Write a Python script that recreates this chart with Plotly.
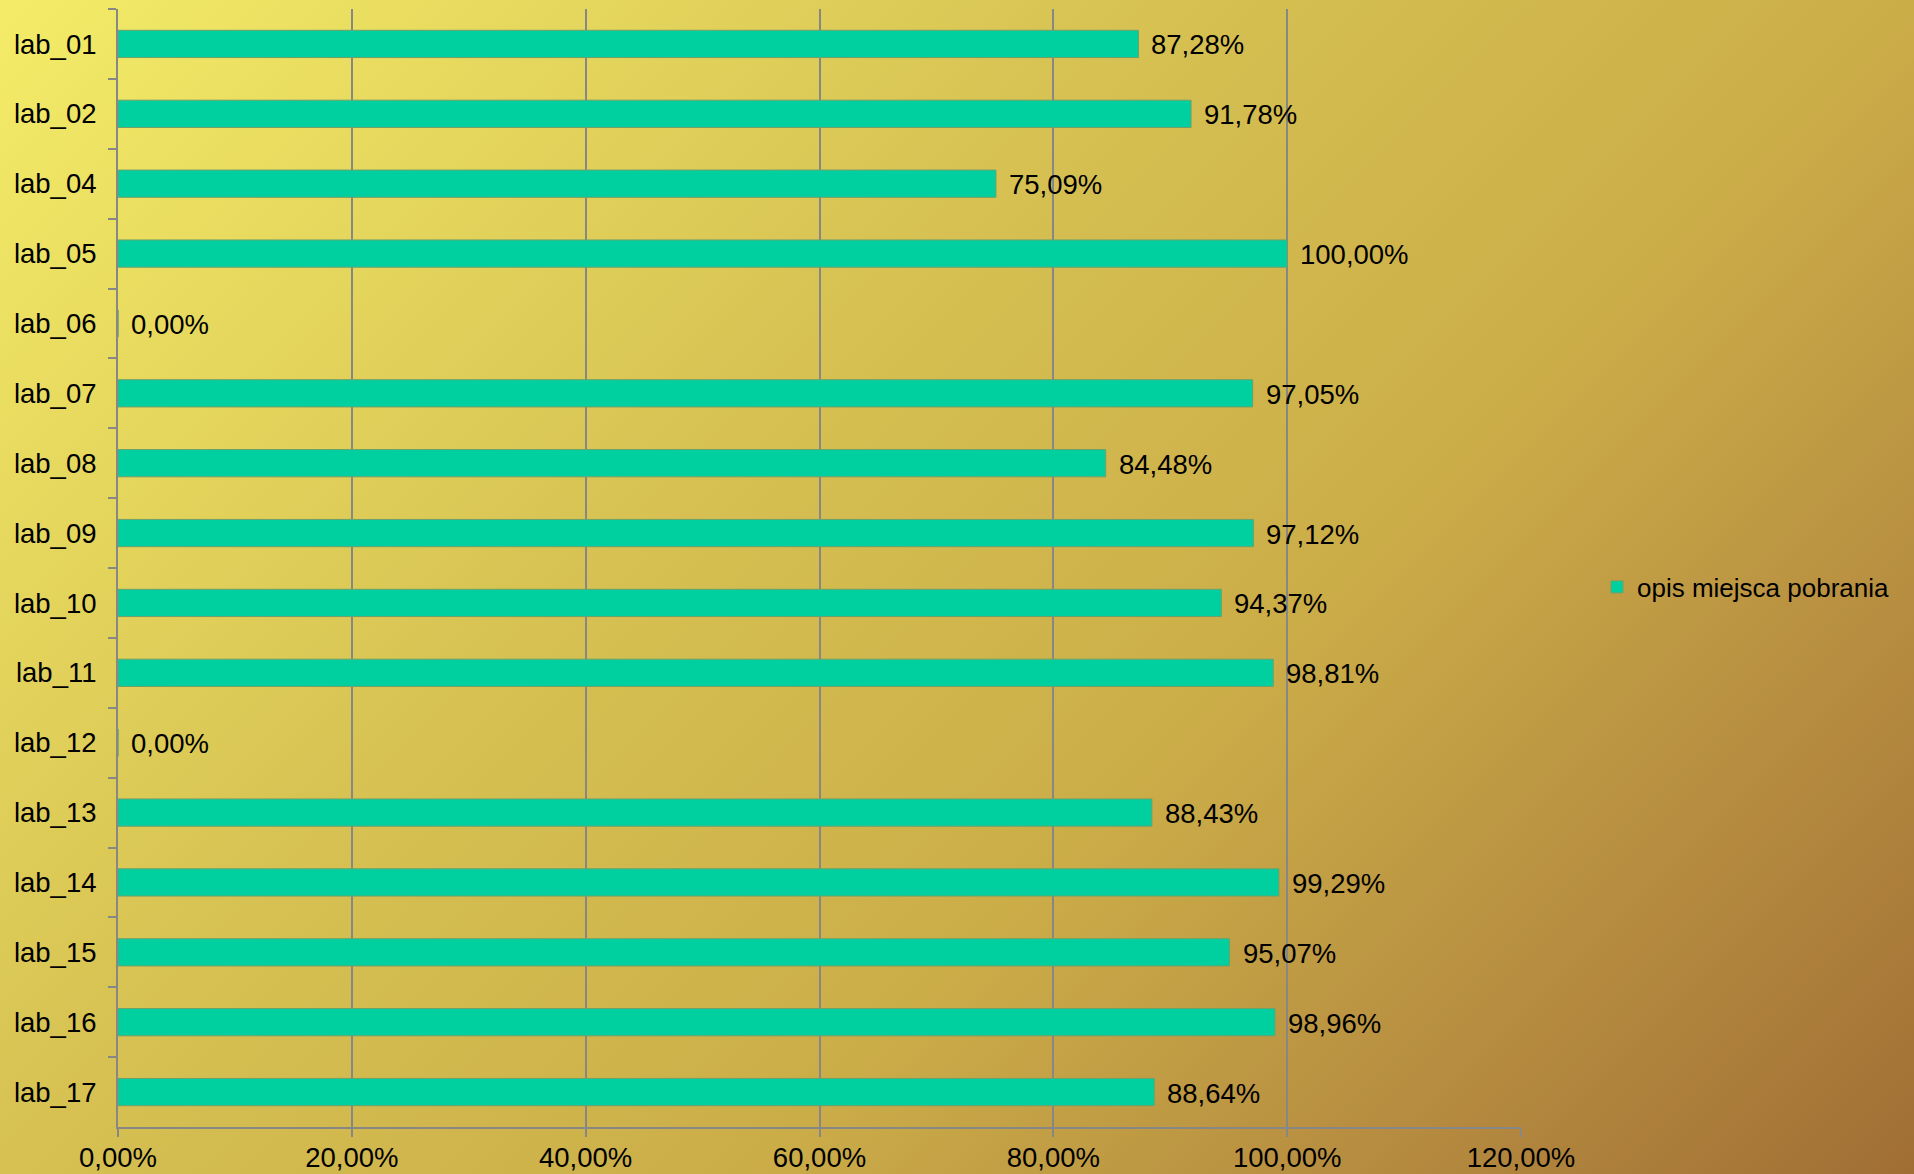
import base64
import plotly.graph_objects as go

# Share of records with a sampling-site description, per laboratory
labs = ["lab_01", "lab_02", "lab_04", "lab_05", "lab_06", "lab_07", "lab_08", "lab_09",
        "lab_10", "lab_11", "lab_12", "lab_13", "lab_14", "lab_15", "lab_16", "lab_17"]
share = [0.8728, 0.9178, 0.7509, 1.0000, 0.0000, 0.9705, 0.8448, 0.9712,
         0.9437, 0.9881, 0.0000, 0.8843, 0.9929, 0.9507, 0.9896, 0.8864]
series_name = "opis miejsca pobrania"
x_ticks = [0, 0.2, 0.4, 0.6, 0.8, 1.0, 1.2]

W, H = 1914, 1174
M_L, M_R, M_T, M_B = 118, 393, 9, 47
PW, PH = W - M_L - M_R, H - M_T - M_B

FONT = "Liberation Sans, Arial, sans-serif"
FS = 27.5
BAR = "#00CFA0"
GRID = "#878785"

# Diagonal golden backdrop drawn as an SVG gradient behind the whole figure
svg = f"""<svg xmlns='http://www.w3.org/2000/svg' width='{W}' height='{H}' viewBox='0 0 {W} {H}'>
<defs><linearGradient id='g' gradientUnits='userSpaceOnUse' x1='0' y1='0' x2='1544' y2='1544'>
<stop offset='0' stop-color='#F4EC68'/>
<stop offset='0.38' stop-color='#D6C152'/>
<stop offset='0.62' stop-color='#CBAD48'/>
<stop offset='0.82' stop-color='#B68C40'/>
<stop offset='1' stop-color='#A06E34'/>
</linearGradient></defs>
<rect width='{W}' height='{H}' fill='url(#g)'/></svg>"""
bg_uri = "data:image/svg+xml;base64," + base64.b64encode(svg.encode()).decode()

fig = go.Figure()
fig.add_trace(go.Bar(
    x=share, y=labs, orientation="h", name=series_name,
    marker=dict(color=BAR, line=dict(color="#6FA06A", width=1)),
    showlegend=True,
))

# Value labels to the right of each bar
annotations = []
for lab, v in zip(labs, share):
    annotations.append(dict(
        x=v, y=lab, xref="x", yref="y", xanchor="left", yanchor="middle",
        xshift=11, yshift=-1, showarrow=False,
        text=f"{v * 100:.2f}%".replace(".", ","),
        font=dict(family=FONT, size=FS, color="#000000"),
    ))

fig.update_layout(
    width=W, height=H,
    margin=dict(l=M_L, r=M_R, t=M_T, b=M_B, pad=0, autoexpand=False),
    paper_bgcolor="#C9AB4A",
    plot_bgcolor="rgba(0,0,0,0)",
    separators=",.",
    bargap=0.61,
    font=dict(family=FONT, size=FS, color="#000000"),
    images=[dict(
        source=bg_uri, xref="paper", yref="paper",
        x=-M_L / PW, y=1 + M_T / PH, sizex=W / PW, sizey=H / PH,
        xanchor="left", yanchor="top", sizing="stretch", layer="below",
    )],
    annotations=annotations,
    legend=dict(
        x=(1597 - M_L) / PW, xanchor="left",
        y=(H - M_B - 587) / PH, yanchor="middle",
        bgcolor="rgba(0,0,0,0)",
        font=dict(family=FONT, size=26, color="#000000"),
        itemwidth=30,
    ),
    xaxis=dict(
        range=[0, 1.2], tickvals=x_ticks, tickformat=".2%",
        showgrid=True, gridcolor=GRID, gridwidth=2,
        zeroline=False, showline=True, linecolor=GRID, linewidth=2,
        ticks="outside", ticklen=8, tickcolor=GRID, tickwidth=2,
        ticklabelstandoff=-3,
        tickfont=dict(family=FONT, size=FS, color="#000000"),
        automargin=False, fixedrange=True,
    ),
    yaxis=dict(
        categoryorder="array", categoryarray=labs, autorange="reversed",
        showgrid=False, zeroline=False, showline=True, linecolor=GRID, linewidth=2,
        ticks="outside", ticklen=8, tickcolor=GRID, tickwidth=2,
        tickson="boundaries", ticklabelstandoff=14,
        tickfont=dict(family=FONT, size=FS, color="#000000"),
        automargin=False, fixedrange=True,
    ),
)

fig.write_html("out.html", config={"displayModeBar": False})
